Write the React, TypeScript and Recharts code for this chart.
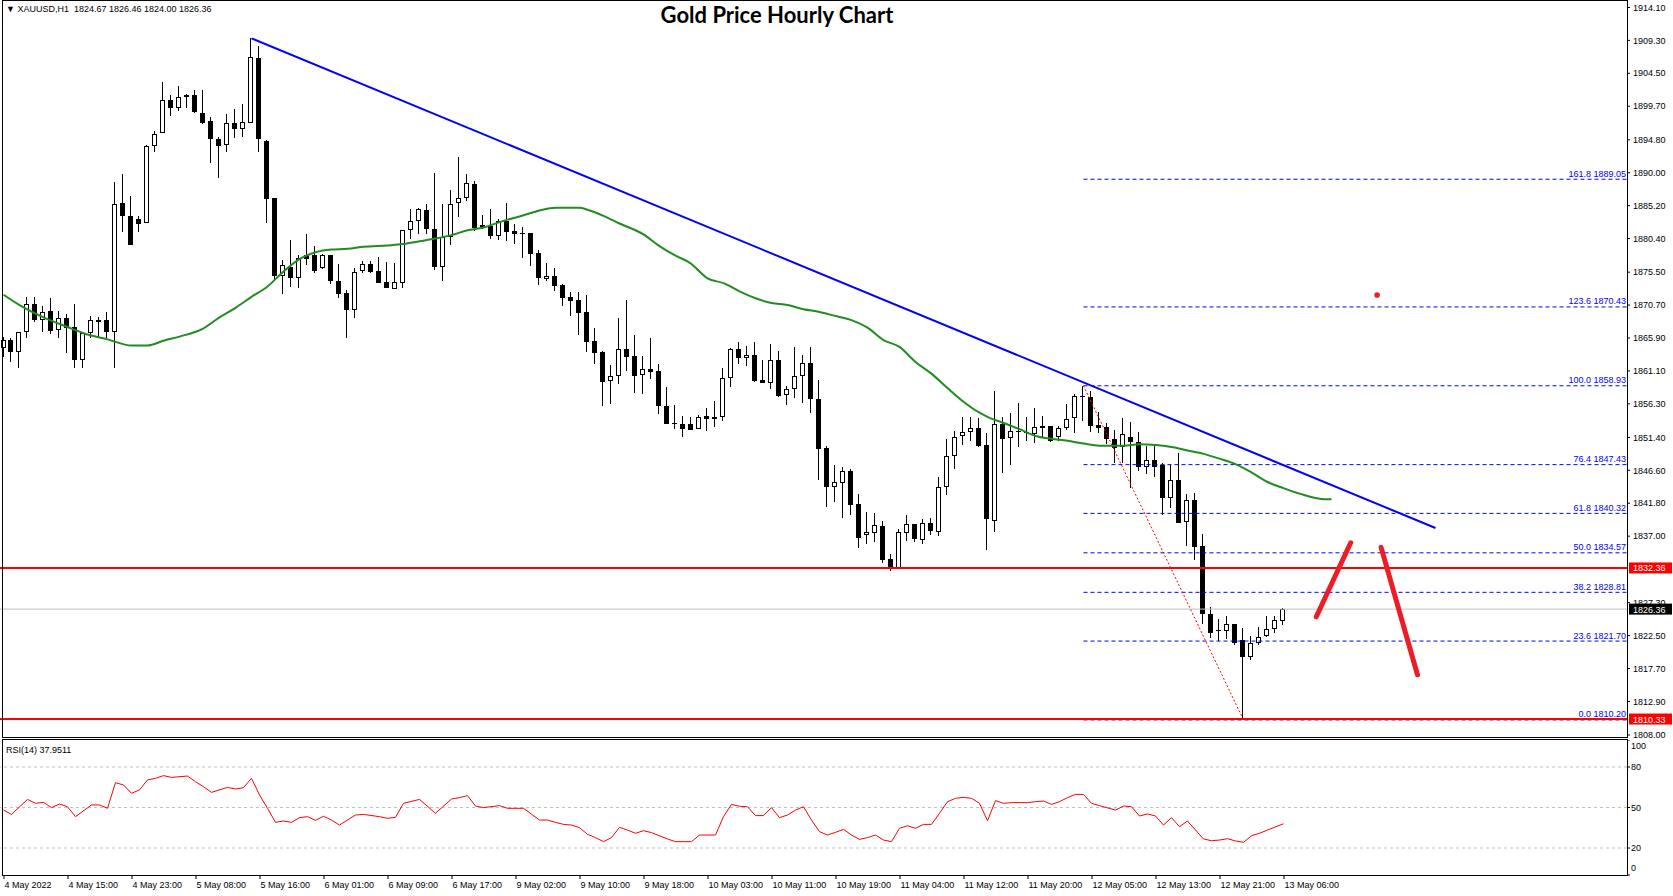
import React from "react";
import {
  ComposedChart,
  LineChart,
  Bar,
  Line,
  XAxis,
  YAxis,
  ReferenceLine,
  ReferenceDot,
} from "recharts";

const FONT = '"Liberation Sans", Arial, sans-serif';

// hourly candles, bar 0 = 4 May 07:00 ... bar 160 = 13 May 06:00
const opens = [
  1864.48, 1865.6, 1863.8, 1866.72, 1870.8, 1868.47, 1869.83, 1867.01, 1868.76, 1867.45,
  1862.63, 1866.57, 1868.52, 1868.52, 1866.72, 1885.53, 1883.68, 1883.25, 1882.61, 1893.84,
  1895.74, 1900.55, 1899.39, 1900.99, 1901.28, 1898.66, 1897.49, 1894.87, 1894.04, 1897.2,
  1896.32, 1897.2, 1906.68, 1894.62, 1886.26, 1874.94, 1876.25, 1874.59, 1877.95, 1877.95,
  1876.15, 1877.95, 1874.21, 1872.41, 1870.03, 1875.71, 1876.64, 1875.67, 1874.01, 1873.09,
  1873.96, 1881.6, 1882.91, 1884.51, 1881.74, 1876.3, 1880.67, 1885.53, 1886.26, 1888.3,
  1882.03, 1882.23, 1880.82, 1882.91, 1881.55, 1881.21, 1881.16, 1878.29, 1874.55, 1874.89,
  1873.58, 1871.87, 1871.39, 1869.64, 1865.46, 1863.8, 1859.67, 1860.3, 1864.24, 1863.27,
  1860.45, 1861.32, 1861.03, 1855.98, 1853.5, 1853.3, 1853.3, 1852.57, 1854.52, 1854.03,
  1854.32, 1860.01, 1864.24, 1862.93, 1863.41, 1859.77, 1859.38, 1862.68, 1857.53, 1858.41,
  1860.4, 1862.25, 1857.0, 1849.85, 1844.21, 1844.8, 1846.45, 1841.68, 1837.11, 1837.5,
  1838.47, 1833.61, 1832.3, 1837.4, 1838.77, 1836.43, 1838.91, 1837.55, 1844.11, 1848.64,
  1851.55, 1852.14, 1852.72, 1850.24, 1839.16, 1853.35, 1851.26, 1852.33, 1852.24, 1851.85,
  1852.82, 1853.06, 1851.51, 1852.72, 1854.18, 1857.49, 1857.24, 1853.21, 1852.87, 1851.12,
  1849.95, 1851.41, 1850.68, 1847.13, 1848.1, 1847.33, 1842.51, 1845.19, 1839.01, 1842.27,
  1835.56, 1825.6, 1823.31, 1823.16, 1824.19, 1821.85, 1819.32, 1821.37, 1822.48, 1823.46,
  1824.67,
];
const highs = [
  1866.09, 1865.84, 1866.72, 1871.92, 1871.92, 1870.56, 1871.68, 1869.83, 1869.44, 1870.85,
  1866.57, 1869.1, 1868.95, 1869.73, 1888.69, 1889.76, 1886.6, 1883.73, 1894.04, 1896.08,
  1903.18, 1901.33, 1902.64, 1901.53, 1902.06, 1902.06, 1898.07, 1895.21, 1898.51, 1899.24,
  1899.97, 1909.6, 1908.53, 1894.8, 1886.26, 1877.27, 1880.19, 1877.99, 1881.06, 1879.31,
  1878.1, 1877.95, 1876.69, 1872.89, 1876.05, 1877.17, 1877.07, 1877.71, 1876.98, 1876.83,
  1881.6, 1884.71, 1884.8, 1885.43, 1889.96, 1885.43, 1887.48, 1892.29, 1889.81, 1888.84,
  1883.83, 1884.71, 1883.3, 1885.58, 1882.52, 1882.13, 1881.16, 1878.68, 1876.83, 1876.06,
  1873.72, 1872.65, 1872.65, 1872.17, 1867.3, 1864.05, 1861.96, 1868.81, 1871.44, 1866.28,
  1863.27, 1865.85, 1862.1, 1858.7, 1856.12, 1854.52, 1854.32, 1854.61, 1855.64, 1856.76,
  1861.47, 1864.39, 1865.31, 1864.78, 1865.26, 1862.68, 1865.02, 1864.0, 1858.89, 1864.58,
  1863.41, 1864.58, 1859.77, 1850.14, 1847.37, 1847.03, 1846.79, 1843.14, 1840.52, 1840.37,
  1839.2, 1834.39, 1838.09, 1840.08, 1838.77, 1839.45, 1839.64, 1845.62, 1851.16, 1852.38,
  1854.32, 1854.32, 1854.23, 1851.99, 1858.17, 1854.42, 1854.91, 1856.37, 1854.42, 1855.64,
  1854.52, 1853.06, 1853.06, 1856.22, 1857.73, 1858.93, 1858.22, 1855.06, 1853.45, 1852.48,
  1854.18, 1853.6, 1852.24, 1850.1, 1850.44, 1847.62, 1847.37, 1849.17, 1843.15, 1843.34,
  1837.26, 1826.62, 1824.92, 1825.35, 1824.19, 1823.55, 1822.48, 1823.8, 1825.4, 1825.4,
  1826.46,
];
const lows = [
  1863.17, 1862.44, 1861.47, 1865.94, 1868.18, 1866.72, 1866.52, 1865.84, 1863.66, 1861.47,
  1861.47, 1865.94, 1865.94, 1865.84, 1861.47, 1881.3, 1879.5, 1881.3, 1882.61, 1892.97,
  1895.74, 1898.32, 1899.05, 1899.39, 1898.66, 1897.15, 1891.37, 1889.27, 1892.97, 1895.01,
  1895.25, 1897.2, 1892.97, 1882.71, 1874.3, 1872.31, 1873.38, 1873.23, 1876.54, 1875.42,
  1876.0, 1873.77, 1871.78, 1865.94, 1868.76, 1875.32, 1875.42, 1873.96, 1873.14, 1873.09,
  1873.14, 1880.38, 1881.11, 1881.11, 1875.81, 1874.25, 1879.5, 1883.59, 1885.87, 1881.55,
  1881.74, 1880.38, 1880.19, 1880.09, 1879.6, 1877.61, 1876.4, 1873.62, 1874.26, 1872.8,
  1870.61, 1869.15, 1866.38, 1863.9, 1862.15, 1856.03, 1856.22, 1859.19, 1861.08, 1857.92,
  1857.73, 1859.96, 1854.81, 1853.3, 1852.57, 1851.5, 1852.53, 1852.57, 1852.28, 1852.86,
  1853.74, 1858.8, 1862.15, 1861.86, 1859.43, 1859.28, 1858.5, 1857.34, 1856.17, 1857.19,
  1856.46, 1855.0, 1845.18, 1841.29, 1842.02, 1839.69, 1840.08, 1835.31, 1835.9, 1836.14,
  1833.13, 1831.96, 1832.3, 1836.34, 1836.14, 1835.9, 1837.11, 1837.06, 1843.04, 1846.74,
  1850.29, 1850.92, 1849.95, 1834.93, 1837.65, 1846.26, 1847.37, 1850.05, 1850.92, 1850.63,
  1851.26, 1850.78, 1850.92, 1852.48, 1851.99, 1853.84, 1852.24, 1851.99, 1850.44, 1847.72,
  1847.72, 1843.97, 1846.55, 1846.06, 1845.67, 1840.08, 1841.05, 1838.87, 1835.61, 1833.52,
  1824.19, 1822.1, 1821.76, 1821.95, 1821.12, 1810.2, 1818.94, 1821.12, 1822.34, 1822.82,
  1824.0,
];
const closes = [
  1865.6, 1863.8, 1866.72, 1870.8, 1868.56, 1869.63, 1866.96, 1868.76, 1867.4, 1862.73,
  1866.57, 1868.47, 1868.27, 1866.72, 1885.38, 1883.73, 1879.5, 1882.47, 1893.84, 1895.59,
  1900.55, 1899.39, 1901.04, 1901.28, 1898.9, 1897.3, 1894.87, 1893.84, 1897.2, 1896.32,
  1897.34, 1906.82, 1894.87, 1886.21, 1874.94, 1876.49, 1874.69, 1877.51, 1877.37, 1875.71,
  1877.95, 1874.25, 1872.36, 1870.03, 1875.47, 1876.64, 1875.57, 1873.96, 1873.23, 1874.01,
  1881.6, 1882.91, 1884.66, 1881.74, 1876.3, 1880.67, 1885.39, 1886.26, 1888.45, 1881.89,
  1882.32, 1880.82, 1882.91, 1881.4, 1881.06, 1881.11, 1878.19, 1874.69, 1874.89, 1873.53,
  1871.78, 1871.34, 1869.59, 1865.36, 1863.76, 1859.53, 1860.3, 1864.24, 1863.17, 1860.4,
  1861.32, 1860.99, 1856.03, 1853.4, 1853.3, 1852.67, 1852.53, 1854.32, 1854.03, 1854.32,
  1860.01, 1864.24, 1862.93, 1863.41, 1859.62, 1859.38, 1862.64, 1857.43, 1858.41, 1860.35,
  1862.2, 1857.0, 1849.75, 1844.21, 1844.84, 1846.45, 1841.59, 1836.77, 1837.6, 1838.57,
  1833.52, 1832.3, 1837.6, 1838.72, 1836.63, 1838.91, 1837.79, 1844.11, 1848.64, 1851.5,
  1852.14, 1852.72, 1850.19, 1839.45, 1853.35, 1851.22, 1852.33, 1852.14, 1851.99, 1852.87,
  1853.01, 1850.92, 1852.72, 1854.04, 1857.39, 1857.24, 1853.11, 1852.82, 1851.12, 1849.9,
  1851.85, 1850.68, 1847.03, 1848.06, 1847.13, 1842.51, 1845.14, 1838.96, 1842.27, 1835.46,
  1825.6, 1822.92, 1823.12, 1824.19, 1821.37, 1819.32, 1821.37, 1822.34, 1823.46, 1824.77,
  1826.36,
];

// moving average (drawn shifted forward, ends past the last candle)
const maBars = [
  0, 2, 5, 8, 10, 13, 16, 18, 20, 22, 25, 27, 29, 31, 33, 35, 37, 39, 41, 43,
  45, 48, 50, 52, 54, 56, 58, 60, 62, 65, 67, 69, 72, 73, 75, 77, 80, 82, 84, 86,
  87, 88, 90, 92, 94, 96, 98, 100, 102, 104, 106, 108, 110, 112, 114, 116, 118, 120, 122, 123,
  125, 127, 129, 131, 133, 135, 137, 140, 142, 144, 146, 148, 150, 152, 154, 156, 158, 160, 162, 165,
  166,
];
const maValues = [
  1872.2, 1870.7, 1868.9, 1867.5, 1866.6, 1865.7, 1864.8, 1864.8, 1865.5, 1866.1,
  1867.3, 1868.9, 1870.3, 1871.9, 1873.4, 1875.6, 1877.4, 1878.4, 1878.8, 1878.9,
  1879.2, 1879.4, 1879.6, 1880.0, 1880.4, 1880.9, 1881.6, 1882.0, 1882.8, 1883.8,
  1884.5, 1884.9, 1884.9, 1884.6, 1883.7, 1882.6, 1881.0, 1879.3, 1877.9, 1876.7,
  1875.6, 1874.6, 1873.9, 1872.7, 1871.7, 1871.0, 1870.7, 1870.1, 1869.7, 1869.1,
  1868.5, 1867.4, 1865.6, 1864.6, 1862.4, 1860.7, 1858.6, 1856.6, 1855.0, 1854.4,
  1853.5, 1852.6, 1851.6, 1851.2, 1850.9, 1850.5, 1850.2, 1850.2, 1850.4, 1850.3,
  1850.0, 1849.5, 1849.0, 1848.3, 1847.5, 1846.3, 1844.9, 1844.0, 1843.2, 1842.4,
  1842.4,
];

// RSI(14)
const rsiBars = [
  0, 1, 3, 4, 5, 6, 7, 8, 9, 11, 12, 13, 14, 15, 16, 17, 18, 19, 20, 21,
  23, 24, 25, 26, 28, 29, 30, 31, 32, 33, 34, 35, 36, 37, 38, 39, 40, 41, 42, 44,
  45, 47, 48, 49, 50, 52, 54, 56, 57, 58, 59, 60, 62, 63, 65, 67, 68, 69, 70, 71,
  72, 73, 74, 75, 76, 77, 78, 79, 80, 81, 83, 84, 86, 87, 89, 90, 91, 92, 93, 94,
  95, 96, 97, 98, 99, 100, 101, 102, 103, 104, 105, 106, 107, 108, 109, 110, 111, 112, 113, 114,
  115, 116, 117, 118, 119, 120, 121, 122, 123, 124, 125, 126, 128, 129, 130, 131, 132, 133, 134, 135,
  136, 137, 139, 140, 141, 142, 143, 144, 145, 146, 147, 148, 149, 150, 151, 152, 153, 154, 155, 156,
  157, 158, 160,
];
const rsiValues = [
  48.1, 44.9, 56.0, 53.1, 53.8, 49.9, 52.6, 50.6, 43.2, 51.9, 51.9, 49.4, 68.4, 66.7, 60.5, 63.0, 70.4, 71.6, 73.6, 72.3,
  73.3, 69.1, 65.4, 61.2, 64.9, 63.7, 64.7, 71.6, 59.3, 49.4, 39.0, 40.0, 39.0, 42.5, 43.2, 40.5, 43.5, 40.7, 37.0, 44.4,
  44.9, 43.2, 42.0, 42.7, 53.1, 56.0, 45.7, 56.3, 57.3, 58.8, 51.1, 49.9, 51.4, 49.4, 49.4, 40.7, 40.7, 39.0, 37.5, 37.0,
  35.1, 30.1, 27.7, 24.7, 27.7, 35.3, 33.3, 30.9, 32.8, 31.4, 26.7, 24.7, 24.7, 29.6, 29.6, 43.2, 52.3, 50.9, 50.6, 44.0,
  44.0, 49.9, 42.5, 44.4, 48.1, 50.6, 40.7, 32.1, 29.6, 31.6, 33.8, 29.6, 26.4, 27.7, 29.6, 25.9, 24.7, 34.6, 36.5, 34.6,
  37.5, 37.5, 45.7, 54.3, 56.8, 57.5, 56.8, 53.1, 40.2, 55.1, 53.1, 53.6, 53.6, 54.3, 54.8, 52.3, 54.3, 57.3, 59.7, 59.7,
  53.1, 51.4, 48.1, 51.1, 50.6, 43.7, 45.2, 43.7, 37.0, 42.5, 35.8, 40.0, 33.3, 26.7, 25.4, 25.9, 26.9, 25.2, 24.2, 29.1,
  30.9, 33.3, 37.95,
];

const priceTicks = [
  1914.1, 1909.3, 1904.5, 1899.7, 1894.8, 1890.0, 1885.2, 1880.4, 1875.5, 1870.7, 1865.9,
  1861.1, 1856.3, 1851.4, 1846.6, 1841.8, 1837.0, 1827.3, 1822.5, 1817.7, 1812.9, 1808.0,
];
const timeLabels = [
  "4 May 2022", "4 May 15:00", "4 May 23:00", "5 May 08:00", "5 May 16:00", "6 May 01:00",
  "6 May 09:00", "6 May 17:00", "9 May 02:00", "9 May 10:00", "9 May 18:00", "10 May 03:00",
  "10 May 11:00", "10 May 19:00", "11 May 04:00", "11 May 12:00", "11 May 20:00", "12 May 05:00",
  "12 May 13:00", "12 May 21:00", "13 May 06:00",
];
const timeTicks = timeLabels.map((_, k) => k * 8);

// fibonacci retracement, from the 1858.93 high (bar 135) to the 1810.20 low (bar 155)
const fibRatios = ["0.0", "23.6", "38.2", "50.0", "61.8", "76.4", "100.0", "123.6", "161.8"];
const fibPrices = [1810.2, 1821.7, 1828.81, 1834.57, 1840.32, 1847.43, 1858.93, 1870.43, 1889.05];

const support = [1832.36, 1810.33];
const lastPrice = 1826.36;

// drawn objects: [bar, price] pairs
const trendLine = [[31, 1909.6], [179, 1838.19]];
const fibDiagonal = [[135, 1858.93], [155, 1810.2]];
const arrowUp = [[164.1, 1825.24], [168.4, 1836.04]];
const arrowDown = [[172.2, 1835.36], [176.75, 1816.78]];
const marker = [171.7, 1872.17];

const X_DOMAIN: [number, number] = [-0.4375, 202.94];
const X_END = 202.94;

const candles = opens.map((o, i) => ({
  i,
  o,
  h: highs[i],
  l: lows[i],
  c: closes[i],
  range: [lows[i], highs[i]],
}));
const maData = maBars.map((b, k) => ({ i: b, ma: maValues[k] }));
const rsiData = rsiBars.map((b, k) => ({ i: b, rsi: rsiValues[k] }));

function Candle(props: any) {
  const { x, y, width, height, payload } = props;
  if (!payload || payload.o == null) return null;
  const { o, h, l, c } = payload;
  const k = h > l ? height / (h - l) : 0;
  const yOf = (v: number) => y + (h - v) * k;
  const cx = Math.floor(x + width / 2);
  const top = Math.round(yOf(Math.max(o, c)));
  const bot = Math.round(yOf(Math.min(o, c)));
  const bull = c >= o;
  return (
    <g>
      <line x1={cx + 0.5} x2={cx + 0.5} y1={Math.round(y)} y2={Math.round(y + height)} stroke="#000" strokeWidth={1} />
      {bull ? (
        <rect x={cx - 1.5} y={top + 0.5} width={4} height={Math.max(bot - top - 1, 1)} fill="#fff" stroke="#000" strokeWidth={1} />
      ) : (
        <rect x={cx - 2} y={top} width={5} height={Math.max(bot - top, 1)} fill="#000" />
      )}
    </g>
  );
}

const priceTag = (text: string, bg: string) => (p: any) => (
  <g>
    <rect x={p.cx + 2} y={p.cy - 5.5} width={43} height={11} fill={bg} />
    <text x={p.cx + 6} y={p.cy + 3.5} fill="#fff" fontSize={9} fontFamily={FONT}>
      {text}
    </text>
  </g>
);

const fibTag = (text: string) => (p: any) => (
  <text x={p.cx - 1} y={p.cy - 2.5} textAnchor="end" fill="#0000ff" fontSize={9} fontFamily={FONT}>
    {text}
  </text>
);

function TimeTick({ x, y, payload }: any) {
  const label = timeLabels[Math.round(payload.value / 8)];
  return (
    <g>
      <line x1={x + 0.5} x2={x + 0.5} y1={y} y2={y + 4} stroke="#000" />
      <text x={x + 1} y={y + 12.5} fontSize={9} fontFamily={FONT} fill="#000">
        {label}
      </text>
    </g>
  );
}

function RsiTick({ x, y, payload }: any) {
  const v = payload.value;
  const dy = v === 100 ? 6 : v === 0 ? -7 : 0;
  return (
    <text x={x} y={y + dy + 3.2} fontSize={9} fontFamily={FONT} fill="#000">
      {v}
    </text>
  );
}

export default function App() {
  return (
    <div
      style={{
        position: "absolute",
        left: 0,
        top: 0,
        width: 1673,
        height: 896,
        background: "#fff",
        fontFamily: FONT,
        overflow: "hidden",
      }}
    >
      <div style={{ position: "absolute", left: 0, top: 0 }}>
        <ComposedChart width={1673} height={745} data={candles} margin={{ top: 0, right: 0, left: 0, bottom: 8 }}>
          <XAxis type="number" dataKey="i" domain={X_DOMAIN} allowDataOverflow hide />
          <YAxis
            orientation="right"
            width={46}
            domain={[1807.71, 1915.19]}
            allowDataOverflow
            ticks={priceTicks}
            interval={0}
            tickFormatter={(v: number) => v.toFixed(2)}
            tick={{ fontSize: 9, fill: "#000", fontFamily: FONT }}
            tickSize={3}
            tickMargin={3}
            tickLine={{ stroke: "#000" }}
            axisLine={false}
          />
          <ReferenceLine y={lastPrice} stroke="#c0c0c0" strokeWidth={1} />
          {fibPrices.map((p, k) => (
            <ReferenceLine
              key={`fib${k}`}
              segment={[{ x: fibDiagonal[0][0], y: p }, { x: X_END, y: p }]}
              stroke="#0000ff"
              strokeWidth={1}
              strokeDasharray="4 3"
              ifOverflow="visible"
            />
          ))}
          {support.map((p) => (
            <ReferenceLine key={`s${p}`} y={p} stroke="#ff0000" strokeWidth={2} />
          ))}
          <ReferenceLine
            segment={fibDiagonal.map(([x, y]) => ({ x, y }))}
            stroke="#ff0000"
            strokeWidth={1}
            strokeDasharray="2 2"
            ifOverflow="visible"
          />
          <Bar dataKey="range" barSize={5} shape={(p: any) => <Candle {...p} />} isAnimationActive={false} />
          <Line
            data={maData}
            dataKey="ma"
            type="monotone"
            stroke="#228b22"
            strokeWidth={2}
            dot={false}
            activeDot={false}
            isAnimationActive={false}
          />
          <ReferenceLine
            segment={trendLine.map(([x, y]) => ({ x, y }))}
            stroke="#0000ff"
            strokeWidth={2}
            ifOverflow="visible"
          />
          {[arrowUp, arrowDown].map((seg, k) => (
            <ReferenceLine
              key={`arrow${k}`}
              segment={seg.map(([x, y]) => ({ x, y }))}
              stroke="#ee1c25"
              strokeWidth={5}
              strokeLinecap="round"
              ifOverflow="visible"
            />
          ))}
          <ReferenceDot x={marker[0]} y={marker[1]} r={2.8} fill="#ee1c25" stroke="none" />
          {fibPrices.map((p, k) => (
            <ReferenceDot key={`fl${k}`} x={X_END} y={p} shape={fibTag(`${fibRatios[k]} ${p.toFixed(2)}`)} />
          ))}
          <ReferenceDot x={X_END} y={lastPrice} shape={priceTag(lastPrice.toFixed(2), "#000")} />
          {support.map((p) => (
            <ReferenceDot key={`st${p}`} x={X_END} y={p} shape={priceTag(p.toFixed(2), "#ff0000")} />
          ))}
        </ComposedChart>
      </div>

      <div style={{ position: "absolute", left: 0, top: 740 }}>
        <LineChart width={1673} height={156} data={rsiData} margin={{ top: 0, right: 0, left: 0, bottom: 0 }}>
          <XAxis
            type="number"
            dataKey="i"
            domain={X_DOMAIN}
            allowDataOverflow
            ticks={timeTicks}
            interval={0}
            height={21}
            tickSize={0}
            tickMargin={0}
            tickLine={false}
            axisLine={false}
            tick={<TimeTick />}
          />
          <YAxis
            orientation="right"
            width={46}
            domain={[0, 100]}
            ticks={[0, 20, 50, 80, 100]}
            interval={0}
            tickSize={3}
            tickMargin={1}
            tickLine={{ stroke: "#000" }}
            axisLine={false}
            tick={<RsiTick />}
          />
          {[20, 50, 80].map((v) => (
            <ReferenceLine key={v} y={v} stroke="#c0c0c0" strokeDasharray="3 3" />
          ))}
          <Line
            dataKey="rsi"
            type="linear"
            stroke="#ff0000"
            strokeWidth={1}
            dot={false}
            activeDot={false}
            isAnimationActive={false}
          />
        </LineChart>
      </div>

      {/* pane frames */}
      <div style={{ position: "absolute", left: 2, top: 0, width: 1626, height: 738, border: "1px solid #000", boxSizing: "border-box", pointerEvents: "none" }} />
      <div style={{ position: "absolute", left: 2, top: 739, width: 1626, height: 137, border: "1px solid #000", boxSizing: "border-box", pointerEvents: "none" }} />

      <div style={{ position: "absolute", left: 6, top: 4, fontSize: 9, color: "#000", whiteSpace: "pre" }}>
        {"\u25BC XAUUSD,H1  1824.67 1826.46 1824.00 1826.36"}
      </div>
      <div
        style={{
          position: "absolute",
          left: 577,
          width: 400,
          top: 1,
          textAlign: "center",
          fontFamily: "Lato, sans-serif",
          fontWeight: 700,
          fontSize: 22,
          color: "#000",
        }}
      >
        Gold Price Hourly Chart
      </div>
      <div style={{ position: "absolute", left: 6, top: 745, fontSize: 9, color: "#000" }}>RSI(14) 37.9511</div>
    </div>
  );
}
